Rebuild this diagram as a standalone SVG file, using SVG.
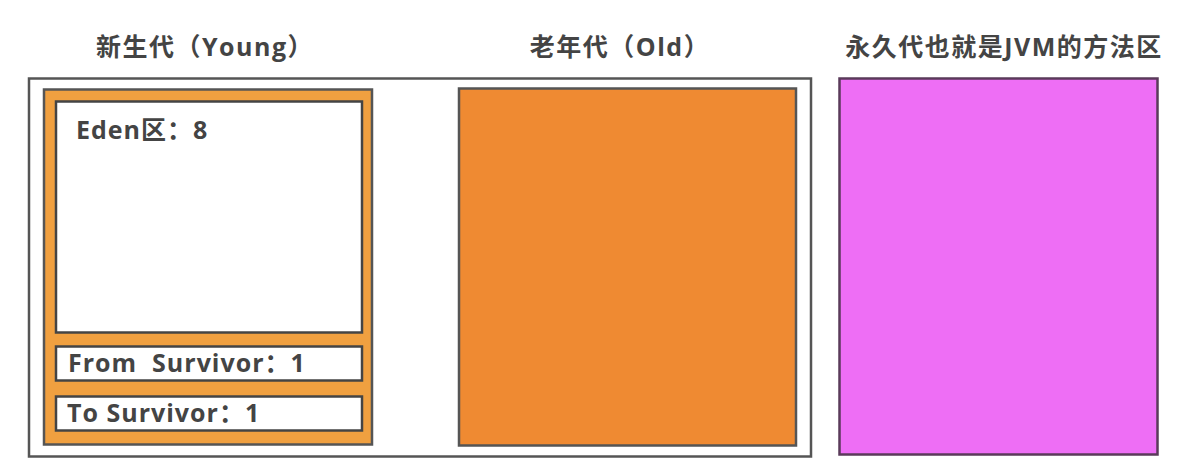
<svg xmlns="http://www.w3.org/2000/svg" width="1192" height="466" viewBox="0 0 1192 466">
<style>
.title{font-family:"Open Sans","Noto Sans CJK SC",sans-serif;font-weight:bold;font-size:25px;fill:#444;text-anchor:middle;letter-spacing:1.5px}
.lbl{font-family:"Open Sans","Noto Sans CJK SC",sans-serif;font-weight:bold;font-size:25px;fill:#444;letter-spacing:1px;white-space:pre}
.white{fill:#fff;stroke:#444;stroke-width:2.5}
</style>
<rect width="1192" height="466" fill="#fff"/>
<g id="titles">
<text class="title" x="205" y="56">新生代（Young）</text>
<text class="title" x="620" y="56">老年代（Old）</text>
<text class="title" x="1004" y="56">永久代也就是JVM的方法区</text>
</g>
<g id="heap">
<rect x="29" y="78.5" width="782" height="378" fill="#fff" stroke="#555" stroke-width="2.5"/>
</g>
<g id="young">
<rect x="44" y="89.5" width="328" height="355" fill="#F0A040" stroke="#555" stroke-width="2.5"/>
</g>
<g id="eden">
<rect class="white" x="56" y="101.5" width="306" height="231"/>
<text class="lbl" x="76" y="139">Eden区：8</text>
</g>
<g id="from">
<rect class="white" x="56" y="346.5" width="306" height="34"/>
<text class="lbl" x="68" y="372" xml:space="preserve">From  Survivor：1</text>
</g>
<g id="to">
<rect class="white" x="56" y="396.5" width="306" height="34"/>
<text class="lbl" x="67" y="422">To Survivor：1</text>
</g>
<g id="old">
<rect x="459" y="88.5" width="337" height="357" fill="#EF8A32" stroke="#555" stroke-width="2.5"/>
</g>
<g id="perm">
<rect x="839.5" y="78.5" width="318" height="376" fill="#EE6EF5" stroke="#5a3a5a" stroke-width="2.5"/>
</g>
<g id="connectors"></g>
</svg>
